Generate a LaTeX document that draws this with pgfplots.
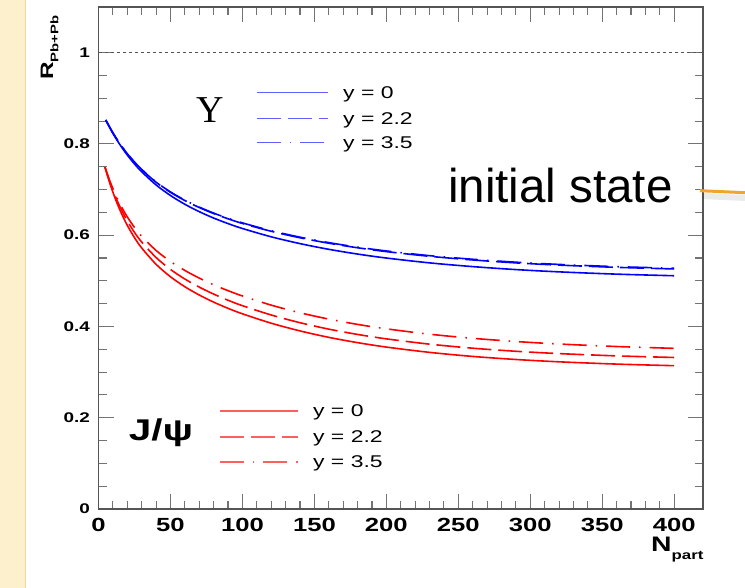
\documentclass[border=0pt]{standalone}
\usepackage{fontspec}
\usepackage{pgfplots}
\pgfplotsset{compat=1.18}
\setmainfont{Liberation Sans}
\newfontfamily\rootfont[FakeStretch=1.35]{Liberation Sans}
\newfontfamily\rootserif{Liberation Serif}
\definecolor{cream}{RGB}{253,240,205}
\definecolor{creamedge}{RGB}{246,214,150}
\definecolor{calloutorange}{RGB}{240,165,45}
\definecolor{framegray}{RGB}{85,85,85}
\definecolor{legblue}{RGB}{95,95,255}
\definecolor{legred}{RGB}{255,95,95}

% R_{Pb+Pb} versus N_part, initial-state suppression for Upsilon and J/psi
\pgfplotstableread{
N     y0      y22     y35
5     0.8525  0.8525  0.8525
10    0.8231  0.8241  0.8242
15    0.7977  0.7997  0.7999
20    0.7756  0.7785  0.7788
25    0.7561  0.7598  0.7602
30    0.7390  0.7435  0.7440
40    0.7101  0.7160  0.7166
50    0.6869  0.6940  0.6947
60    0.6677  0.6759  0.6767
70    0.6515  0.6606  0.6615
80    0.6375  0.6474  0.6483
90    0.6254  0.6359  0.6370
100   0.6146  0.6257  0.6269
120   0.5964  0.6085  0.6097
140   0.5815  0.5943  0.5956
160   0.5690  0.5824  0.5837
180   0.5586  0.5724  0.5737
200   0.5499  0.5640  0.5654
230   0.5393  0.5537  0.5551
260   0.5311  0.5457  0.5472
290   0.5246  0.5393  0.5408
320   0.5196  0.5344  0.5359
360   0.5146  0.5295  0.5310
400   0.5111  0.5260  0.5275
}\upsilondata

\pgfplotstableread{
N     y0      y22     y35
4.5   0.7490  0.7490  0.7490
8     0.7125  0.7154  0.7177
12    0.6772  0.6828  0.6876
16    0.6472  0.6551  0.6619
20    0.6216  0.6313  0.6401
25    0.5946  0.6061  0.6170
30    0.5720  0.5850  0.5976
40    0.5362  0.5511  0.5665
50    0.5089  0.5250  0.5424
60    0.4870  0.5039  0.5227
70    0.4689  0.4862  0.5060
80    0.4533  0.4709  0.4913
90    0.4397  0.4574  0.4784
100   0.4277  0.4455  0.4668
120   0.4071  0.4251  0.4467
140   0.3902  0.4082  0.4300
160   0.3761  0.3941  0.4161
180   0.3645  0.3825  0.4045
200   0.3548  0.3728  0.3948
230   0.3432  0.3612  0.3830
260   0.3343  0.3523  0.3740
290   0.3276  0.3456  0.3670
320   0.3225  0.3405  0.3615
360   0.3175  0.3355  0.3560
400   0.3140  0.3320  0.3520
}\jpsidata

\tikzset{
  dashlong/.style={dash pattern=on 24bp off 7bp},
  dashdotlong/.style={dash pattern=on 24bp off 9bp on 1.5bp off 9bp},
  keytext/.style={anchor=base west, inner sep=0pt,
    font=\rootfont\fontsize{17bp}{17bp}\selectfont},
}

\begin{document}
\begin{tikzpicture}[x=1bp,y=1bp]
\useasboundingbox (0,0) rectangle (745,588);
\fill[cream] (0,0) rectangle (25,588);
\draw[creamedge, line width=1bp] (25,0) -- (25,588);

\begin{axis}[
  at={(98.5bp,79bp)}, anchor=south west,
  width=604.5bp, height=502bp, scale only axis,
  xmin=0, xmax=420, ymin=0, ymax=1.1,
  axis line style={draw=framegray, line width=1.6bp},
  tick align=inside,
  every tick/.style={draw=black!55, line width=1.1bp},
  major tick length=15bp, minor tick length=8bp,
  xtick={0,50,...,400}, minor x tick num=4,
  ytick={0,0.2,0.4,0.6,0.8,1}, minor y tick num=3,
  xticklabels={0,50,100,150,200,250,300,350,400},
  yticklabels={0,0.2,0.4,0.6,0.8,1},
  xticklabel style={font=\rootfont\bfseries\fontsize{19bp}{19bp}\selectfont,
    inner sep=0pt, anchor=north, yshift=-9bp},
  yticklabel style={font=\rootfont\bfseries\fontsize{14bp}{14bp}\selectfont,
    inner sep=0pt, anchor=east, xshift=-8.5bp},
  clip=false,
]
% reference line at unity
\addplot[framegray, line width=0.8bp, dash pattern=on 3bp off 3bp]
  coordinates {(0,1) (420,1)};

% Upsilon
\addplot[blue, line width=1.6bp, smooth] table[x=N, y=y0] {\upsilondata};
\addplot[blue, line width=1.6bp, smooth, dashlong] table[x=N, y=y22] {\upsilondata};
\addplot[blue, line width=1.6bp, smooth, dashdotlong] table[x=N, y=y35] {\upsilondata};

% J/psi
\addplot[red, line width=1.6bp, smooth] table[x=N, y=y0] {\jpsidata};
\addplot[red, line width=1.6bp, smooth, dashlong] table[x=N, y=y22] {\jpsidata};
\addplot[red, line width=1.6bp, smooth, dashdotlong] table[x=N, y=y35] {\jpsidata};

% key samples, Upsilon
\addplot[legblue, line width=1.4bp] coordinates {(110.1,0.9123) (159.5,0.9123)};
\addplot[legblue, line width=1.4bp, dashlong] coordinates {(110.1,0.8553) (159.5,0.8553)};
\addplot[legblue, line width=1.4bp, dashdotlong] coordinates {(110.1,0.8026) (159.5,0.8026)};
\node[keytext] at (axis cs:169.9,0.8991) {y = 0};
\node[keytext] at (axis cs:169.9,0.8421) {y = 2.2};
\node[keytext] at (axis cs:169.9,0.7894) {y = 3.5};

% key samples, J/psi
\addplot[legred, line width=1.4bp] coordinates {(84.4,0.2149) (138.6,0.2149)};
\addplot[legred, line width=1.4bp, dashlong] coordinates {(84.4,0.1579) (138.6,0.1579)};
\addplot[legred, line width=1.4bp, dashdotlong] coordinates {(84.4,0.1031) (138.6,0.1031)};
\node[keytext] at (axis cs:149.0,0.2017) {y = 0};
\node[keytext] at (axis cs:149.0,0.1447) {y = 2.2};
\node[keytext] at (axis cs:149.0,0.0899) {y = 3.5};
\end{axis}

% particle labels
\node[font=\rootserif\fontsize{38bp}{38bp}\selectfont] at (210,478) {Υ};
\node[font=\rootfont\bfseries\fontsize{30bp}{30bp}\selectfont] at (161,155) {J/ψ};

% axis titles
\node[rotate=90, anchor=base west, inner sep=0pt,
  font=\rootfont\bfseries\fontsize{18bp}{18bp}\selectfont] at (53,508)
  {R\raisebox{-0.3em}{\fontsize{11bp}{11bp}\selectfont Pb+Pb}};
\node[anchor=base west, inner sep=0pt,
  font=\rootfont\bfseries\fontsize{21bp}{21bp}\selectfont] at (651,36)
  {N\raisebox{-0.35em}{\fontsize{12.5bp}{12.5bp}\selectfont part}};

% callout
\node[anchor=base west, inner sep=0pt, font=\fontsize{47.5bp}{47.5bp}\selectfont]
  at (448,385.3) {initial state};
\draw[black, opacity=0.08, line width=6bp] (702,392) -- (745,390);
\draw[calloutorange, line width=3bp] (700,397.3) -- (745,395.3);
\end{tikzpicture}
\end{document}
